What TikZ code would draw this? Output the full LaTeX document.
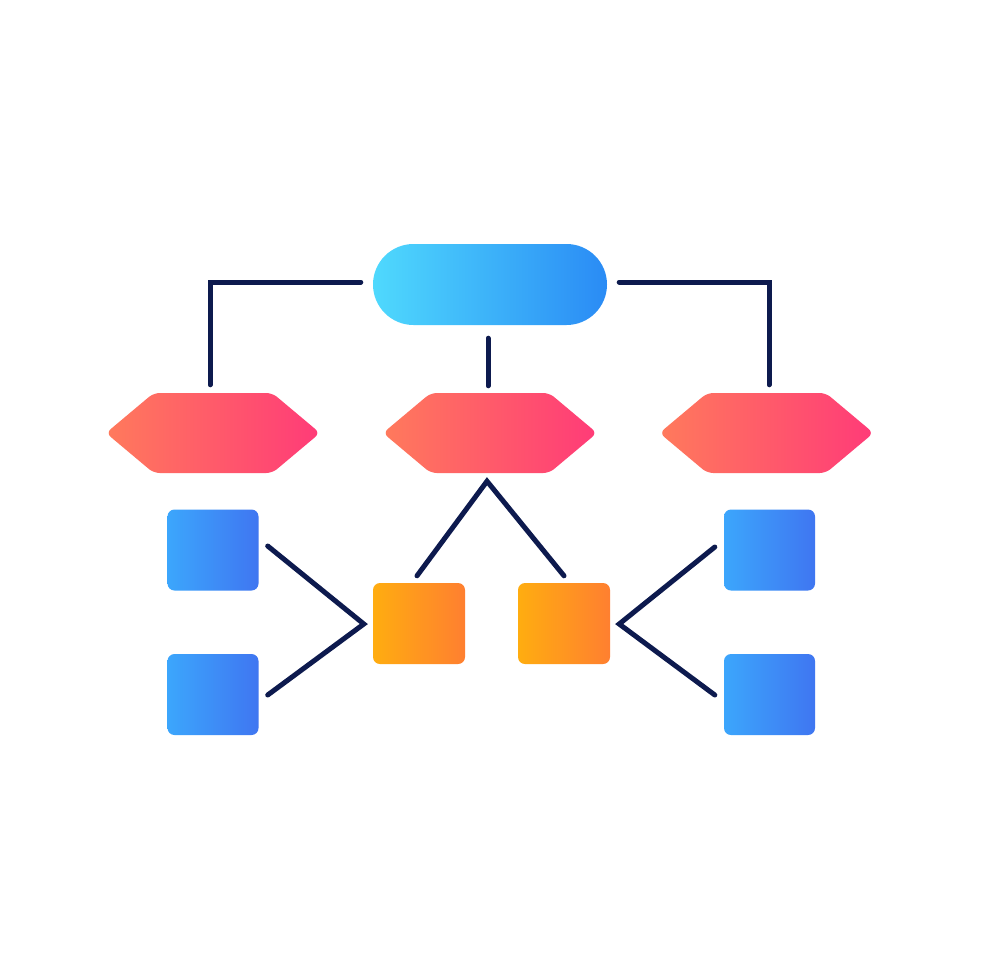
\documentclass[tikz,border=0pt]{standalone}
\usetikzlibrary{shapes.misc,shapes.symbols,calc}
\definecolor{navy}{HTML}{0D1A4E}
\definecolor{pillL}{HTML}{4FD9FD}
\definecolor{pillR}{HTML}{2A8BF5}
\definecolor{hexL}{HTML}{FF7A5C}
\definecolor{hexR}{HTML}{FF3B78}
\definecolor{blueL}{HTML}{3CA6FC}
\definecolor{blueR}{HTML}{3F76F1}
\definecolor{orL}{HTML}{FFAD10}
\definecolor{orR}{HTML}{FF7F30}
\tikzset{
  pill/.style={rounded rectangle, minimum width=234pt, minimum height=81pt, inner sep=0pt, left color=pillL, right color=pillR, draw=none},
  hexa/.style={signal, signal to=west and east, signal pointer angle=80, minimum width=214pt, minimum height=80pt, inner sep=0pt, rounded corners=6pt, left color=hexL, right color=hexR, draw=none},
  bluebox/.style={rectangle, rounded corners=7pt, minimum width=91pt, minimum height=81pt, inner sep=0pt, left color=blueL, right color=blueR, draw=none},
  orbox/.style={rectangle, rounded corners=7pt, minimum width=92pt, minimum height=81pt, inner sep=0pt, left color=orL, right color=orR, draw=none},
  link/.style={draw=navy, line width=5pt, line cap=round, line join=miter}
}
\begin{document}
\begin{tikzpicture}[x=1pt,y=-1pt]
\useasboundingbox (0,0) rectangle (980,980);
\fill[white] (0,0) rectangle (980,980);
\node[pill] (top) at (490,284.5) {};
\node[hexa] (hL) at (213,433) {};
\node[hexa] (hM) at (490,433) {};
\node[hexa] (hR) at (766.5,433) {};
\node[bluebox] (bL1) at (213,550) {};
\node[bluebox] (bL2) at (213,694.5) {};
\node[bluebox] (bR1) at (769.5,550) {};
\node[bluebox] (bR2) at (769.5,694.5) {};
\node[orbox] (oL) at (419,623.5) {};
\node[orbox] (oR) at (564,623.5) {};
% top connectors
\draw[link] ($(top.west)+(-12,-2.5)$) -| ($(hL.north)+(-3,-8)$);
\draw[link] ($(top.east)+(12,-2.5)$) -| ($(hR.north)+(2.5,-8)$);
\draw[link] ($(top.south)+(-2,13)$) -- ($(hM.north)+(-2,-7)$);
% middle hex to orange boxes
\coordinate (apex) at ($(hM.south)+(-3,8)$);
\draw[link] ($(oL.north)+(-2,-7)$) -- (apex) -- ($(oR.north)+(0,-7)$);
% left V
\coordinate (vL) at ($(oL.west)+(-9,0.5)$);
\draw[link] ($(bL1.east)+(9,-4)$) -- (vL) -- ($(bL2.east)+(9,0.5)$);
% right V
\coordinate (vR) at ($(oR.east)+(9,0.5)$);
\draw[link] ($(bR1.west)+(-9,-3)$) -- (vR) -- ($(bR2.west)+(-9,0.5)$);
\end{tikzpicture}
\end{document}
